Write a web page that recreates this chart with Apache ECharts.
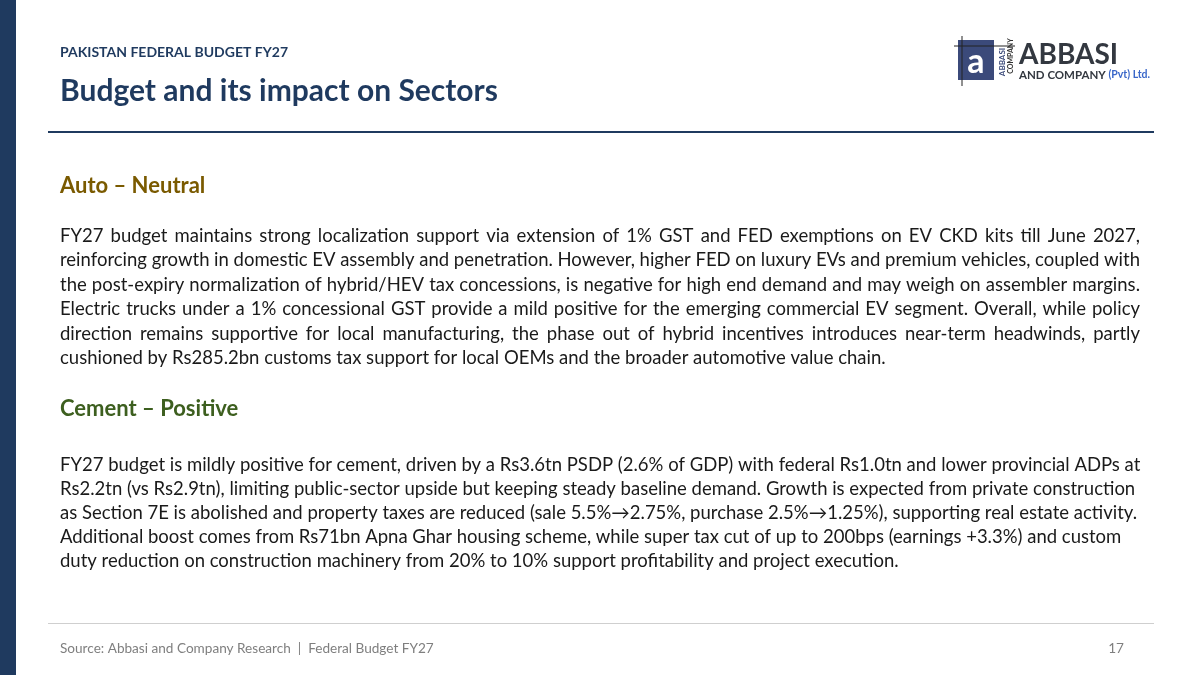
<!DOCTYPE html>
<html><head><meta charset="utf-8">
<script src="https://cdn.jsdelivr.net/npm/echarts@6/dist/echarts.min.js"></script>
<style>html,body{margin:0;padding:0;background:#fff}#c{width:1200px;height:675px}</style>
</head><body><div id="c"></div>
<script>
var kicker = 'PAKISTAN FEDERAL BUDGET FY27';
var title = 'Budget and its impact on Sectors';
var autoHead = 'Auto \u2013 Neutral';
var autoLines = [
  'FY27 budget maintains strong localization support via extension of 1% GST and FED exemptions on EV CKD kits till June 2027,',
  'reinforcing growth in domestic EV assembly and penetration. However, higher FED on luxury EVs and premium vehicles, coupled with',
  'the post-expiry normalization of hybrid/HEV tax concessions, is negative for high end demand and may weigh on assembler margins.',
  'Electric trucks under a 1% concessional GST provide a mild positive for the emerging commercial EV segment. Overall, while policy',
  'direction remains supportive for local manufacturing, the phase out of hybrid incentives introduces near-term headwinds, partly',
  'cushioned by Rs285.2bn customs tax support for local OEMs and the broader automotive value chain.'
];
var cementHead = 'Cement \u2013 Positive';
var cementLines = [
  'FY27 budget is mildly positive for cement, driven by a Rs3.6tn PSDP (2.6% of GDP) with federal Rs1.0tn and lower provincial ADPs at',
  'Rs2.2tn (vs Rs2.9tn), limiting public-sector upside but keeping steady baseline demand. Growth is expected from private construction',
  'as Section 7E is abolished and property taxes are reduced (sale 5.5%\u21922.75%, purchase 2.5%\u21921.25%), supporting real estate activity.',
  'Additional boost comes from Rs71bn Apna Ghar housing scheme, while super tax cut of up to 200bps (earnings +3.3%) and custom',
  'duty reduction on construction machinery from 20% to 10% support profitability and project execution.'
];
var source = 'Source: Abbasi and Company Research  |  Federal Budget FY27';
var pageNo = '17';

var FONT = 'Lato, "Open Sans", sans-serif';
var FS = 18.5;
var ctx = document.createElement('canvas').getContext('2d');
ctx.font = FS + 'px ' + FONT;
var els = [];
function txt(x, y, s, size, color, weight, align) {
  els.push({type: 'text', x: x, y: y, style: {text: s, font: (weight || 'normal') + ' ' + size + 'px ' + FONT,
    fill: color, textAlign: align || 'left', textVerticalAlign: 'middle'}});
}
function justified(lines, y0, dy, left, right) {
  lines.forEach(function (ln, i) {
    var y = y0 + i * dy;
    if (i === lines.length - 1) { txt(left, y, ln, FS, '#1a1a1a'); return; }
    var w = ln.split(' ');
    var tot = 0;
    w.forEach(function (s) { tot += ctx.measureText(s).width; });
    var gap = (right - left - tot) / (w.length - 1);
    var x = left;
    w.forEach(function (s) { txt(x, y, s, FS, '#1a1a1a'); x += ctx.measureText(s).width + gap; });
  });
}
els.push({type: 'rect', shape: {x: 0, y: 0, width: 16, height: 675}, style: {fill: '#1f3a5f'}});
txt(60, 52, kicker, 14, '#1f3a5f', 'bold');
txt(60, 91, title, 30, '#1f3a5f', 'bold');
els.push({type: 'rect', shape: {x: 48, y: 131, width: 1106, height: 2}, style: {fill: '#1f3a5f'}});
txt(60, 186, autoHead, 22, '#7a5a00', 'bold');
justified(autoLines, 236, 24.5, 60, 1140);
txt(60, 409, cementHead, 22, '#3d5f1f', 'bold');
cementLines.forEach(function (ln, i) { txt(60, 465 + i * 24, ln, FS, '#1a1a1a'); });
els.push({type: 'rect', shape: {x: 48, y: 623, width: 1106, height: 1}, style: {fill: '#cfcfcf'}});
txt(60, 649, source, 13.6, '#7f7f7f');
txt(1124, 649, pageNo, 13.6, '#7f7f7f', 'normal', 'right');
// logo
els.push({type: 'rect', shape: {x: 958, y: 40, width: 36, height: 40}, style: {fill: '#3b4a7a'}});
els.push({type: 'line', shape: {x1: 954, y1: 46, x2: 1015, y2: 46}, style: {stroke: '#222', lineWidth: 1}});
els.push({type: 'line', shape: {x1: 962, y1: 36, x2: 962, y2: 86}, style: {stroke: '#222', lineWidth: 1}});
txt(976, 62, 'a', 34, '#ffffff', 'bold', 'center');
els.push({type: 'text', x: 1002, y: 62, rotation: Math.PI / 2, style: {text: 'ABBASI', font: 'bold 8px ' + FONT, fill: '#3b4a7a', textAlign: 'center', textVerticalAlign: 'middle'}});
els.push({type: 'text', x: 1011, y: 56, rotation: Math.PI / 2, style: {text: 'COMPANY', font: 'bold 7px ' + FONT, fill: '#333', textAlign: 'center', textVerticalAlign: 'middle'}});
txt(1019, 55, 'ABBASI', 28, '#333840', 'bold');
txt(1019, 75, 'AND COMPANY', 11.5, '#333840', 'bold');
txt(1150, 75, '(Pvt) Ltd.', 10.5, '#3a67c9', 'bold', 'right');

var chart = echarts.init(document.getElementById('c'));
chart.setOption({animation: false, graphic: {elements: els}});
window.onresize = function () { chart.resize(); };
</script></body></html>
